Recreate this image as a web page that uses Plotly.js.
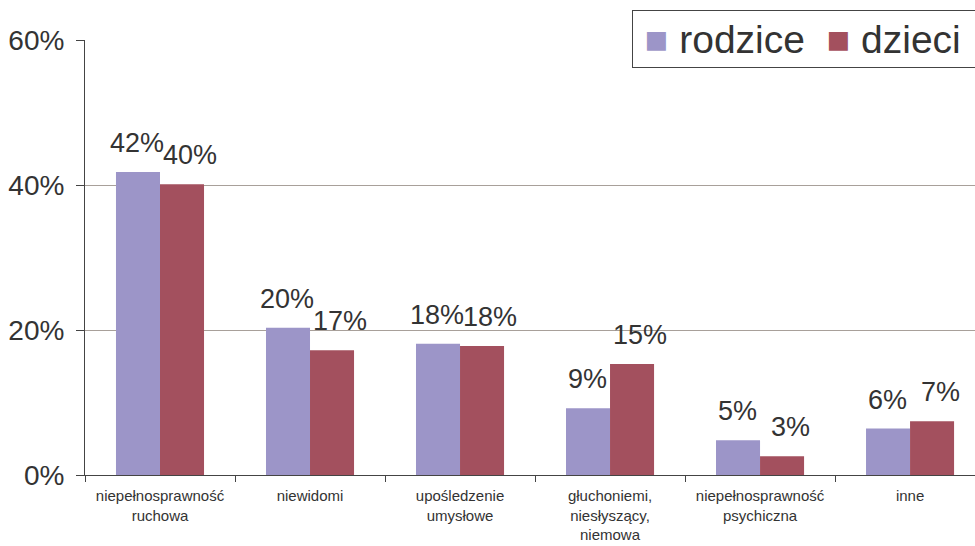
<!DOCTYPE html>
<html>
<head>
<meta charset="utf-8">
<script src="https://cdn.plot.ly/plotly-3.0.1.min.js"></script>
<style>html,body{margin:0;padding:0;background:#fff;}#chart{width:975px;height:546px;}</style>
</head>
<body>
<div id="chart"></div>
<script>
var categories = ["niepełnosprawność<br>ruchowa", "niewidomi", "upośledzenie<br>umysłowe", "głuchoniemi,<br>niesłyszący,<br>niemowa", "niepełnosprawność<br>psychiczna", "inne"];
var rodzice = [0.418, 0.203, 0.181, 0.092, 0.048, 0.064];
var dzieci = [0.401, 0.172, 0.178, 0.153, 0.026, 0.074];
var seriesNames = ["rodzice", "dzieci"];
var seriesColors = ["#9c95c8", "#a3505e"];

var FONT = "Liberation Sans, Arial, sans-serif";
var BARGAP = 0.413;
var half = (1 - BARGAP) / 4; // offset of each bar centre from category centre
var labelXShift = [-1, 8];   // style: nudge of value labels per series

var traces = [
  {type: "bar", name: seriesNames[0], x: categories, y: rodzice, marker: {color: seriesColors[0]}, hoverinfo: "none", showlegend: false},
  {type: "bar", name: seriesNames[1], x: categories, y: dzieci, marker: {color: seriesColors[1]}, hoverinfo: "none", showlegend: false}
];

var annotations = [];
[rodzice, dzieci].forEach(function (vals, s) {
  vals.forEach(function (v, i) {
    annotations.push({
      xref: "x", yref: "y", x: i + (s === 0 ? -half : half), y: v,
      text: Math.round(v * 100) + "%", showarrow: false,
      xanchor: "center", yanchor: "bottom", yshift: 12, xshift: labelXShift[s],
      font: {family: FONT, size: 27, color: "#333"}
    });
  });
});

// legend drawn as a bordered annotation with large colour squares
annotations.push({
  xref: "paper", yref: "paper", x: (632 - 85) / 890, y: (475 - 10) / 435,
  xanchor: "left", yanchor: "top", showarrow: false, align: "left",
  width: 370, height: 54, bgcolor: "#fff", bordercolor: "#444", borderwidth: 1, borderpad: 1,
  text: '&nbsp;<span style="color:' + seriesColors[0] + '">■</span> ' + seriesNames[0] +
        '&nbsp;&nbsp;<span style="color:' + seriesColors[1] + '">■</span> ' + seriesNames[1],
  font: {family: FONT, size: 39, color: "#333"}
});

var layout = {
  width: 975, height: 546,
  margin: {l: 85, r: 0, t: 40, b: 71},
  paper_bgcolor: "#fff", plot_bgcolor: "#fff",
  barmode: "group", bargap: BARGAP, bargroupgap: 0,
  showlegend: false,
  annotations: annotations,
  xaxis: {range: [-0.5, 5.433], tickson: "boundaries", ticks: "outside", ticklen: 6, tickcolor: "#444",
    ticklabelstandoff: 7,
    showline: true, linecolor: "#444", linewidth: 1, showgrid: false,
    tickfont: {family: FONT, size: 15, color: "#333"}},
  yaxis: {range: [0, 0.6], tickvals: [0, 0.2, 0.4, 0.6], tickformat: ".0%",
    ticks: "outside", ticklen: 8, tickcolor: "#444", ticklabelstandoff: 6,
    showline: true, linecolor: "#444", linewidth: 1,
    showgrid: true, gridcolor: "#a8a09a", gridwidth: 1, zeroline: false,
    tickfont: {family: FONT, size: 28, color: "#333"}}
};
Plotly.newPlot("chart", traces, layout, {displayModeBar: false, staticPlot: true});
</script>
</body>
</html>
